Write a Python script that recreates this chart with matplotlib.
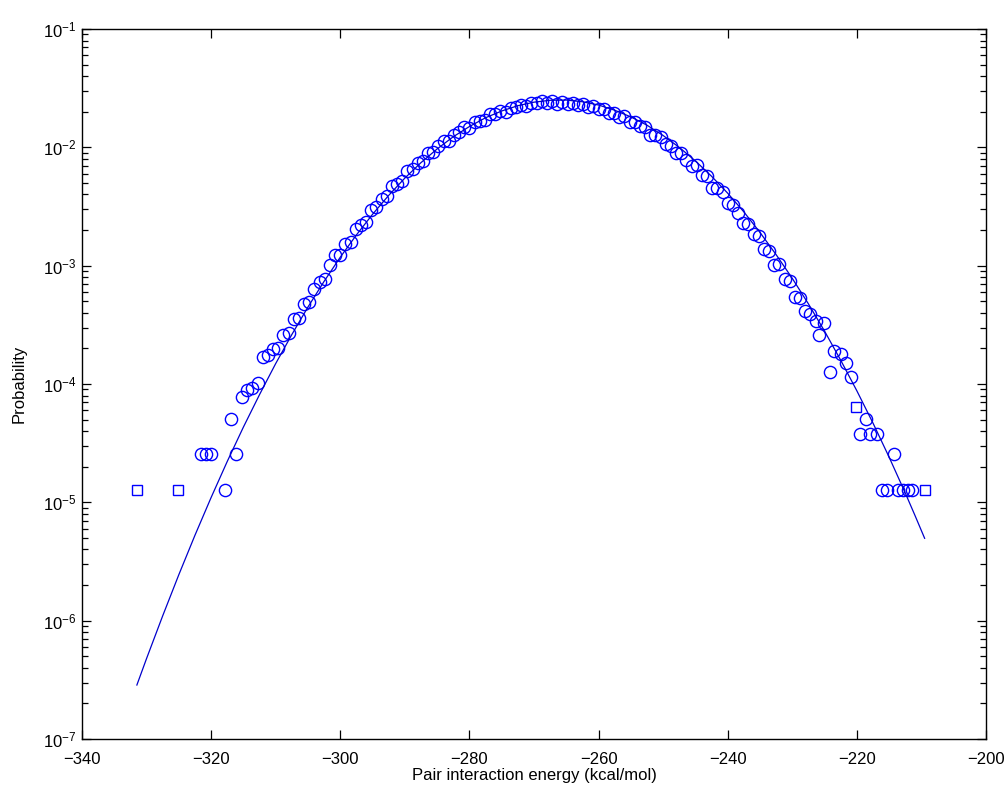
import numpy as np
import matplotlib
matplotlib.use("Agg")
import matplotlib.pyplot as plt
from matplotlib.ticker import LogLocator, MultipleLocator, NullFormatter

plt.rcParams["font.family"] = ["Liberation Sans", "DejaVu Sans"]

# Histogram points (circles)
circ_x = [
    -321.6, -320.8, -320.0, -317.8, -316.9, -316.1, -315.2, -314.5, -313.7, -312.7, -311.9,
    -311.2, -310.4, -309.6, -308.8, -308.0, -307.2, -306.4, -305.6, -304.8, -304.0,
    -303.2, -302.4, -301.6, -300.8, -300.0, -299.2, -298.4, -297.6, -296.8, -296.0,
    -295.2, -294.4, -293.6, -292.8, -292.0, -291.2, -290.4, -289.6, -288.8, -288.0,
    -287.2, -286.4, -285.6, -284.8, -284.0, -283.2, -282.4, -281.6, -280.8, -280.0,
    -279.2, -278.4, -277.6, -276.8, -276.0, -275.2, -274.4, -273.6, -272.8, -272.0,
    -271.2, -270.4, -269.6, -268.8, -268.0, -267.2, -266.4, -265.6, -264.8, -264.0,
    -263.2, -262.4, -261.6, -260.8, -260.0, -259.2, -258.4, -257.6, -256.8, -256.0,
    -255.2, -254.4, -253.6, -252.8, -252.0, -251.2, -250.4, -249.6, -248.8, -248.0,
    -247.2, -246.4, -245.6, -244.8, -244.0, -243.2, -242.4, -241.6, -240.8, -240.0,
    -239.2, -238.4, -237.6, -236.8, -236.0, -235.2, -234.4, -233.6, -232.8, -232.0,
    -231.2, -230.4, -229.6, -228.8, -228.0, -227.2, -226.4,
    -225.8, -225.1, -224.1, -223.5, -222.5, -221.7, -220.9, -219.5, -218.6, -218.0,
    -216.9, -214.2, -216.1, -215.3, -213.6, -212.8, -212.0, -211.4,
]
circ_p = [
    2.54e-5, 2.54e-5, 2.54e-5, 1.27e-5, 5.08e-5, 2.54e-5, 7.8e-5, 8.9e-5, 9.2e-5, 1.02e-4, 1.7e-4,
    1.75e-4, 1.97e-4, 2.02e-4, 2.59e-4, 2.70e-4, 3.52e-4, 3.64e-4, 4.72e-4, 4.95e-4, 6.38e-4,
    7.29e-4, 7.76e-4, 1.01e-3, 1.23e-3, 1.23e-3, 1.52e-3, 1.59e-3, 2.04e-3, 2.22e-3, 2.35e-3,
    2.98e-3, 3.13e-3, 3.69e-3, 3.85e-3, 4.71e-3, 4.89e-3, 5.18e-3, 6.27e-3, 6.59e-3, 7.40e-3,
    7.71e-3, 8.99e-3, 9.12e-3, 1.03e-2, 1.14e-2, 1.14e-2, 1.28e-2, 1.34e-2, 1.49e-2, 1.47e-2,
    1.63e-2, 1.67e-2, 1.72e-2, 1.92e-2, 1.91e-2, 2.03e-2, 2.01e-2, 2.17e-2, 2.18e-2, 2.29e-2,
    2.23e-2, 2.37e-2, 2.35e-2, 2.45e-2, 2.36e-2, 2.45e-2, 2.34e-2, 2.44e-2, 2.34e-2, 2.38e-2,
    2.26e-2, 2.33e-2, 2.18e-2, 2.23e-2, 2.12e-2, 2.10e-2, 1.94e-2, 1.96e-2, 1.79e-2, 1.84e-2,
    1.64e-2, 1.63e-2, 1.51e-2, 1.49e-2, 1.28e-2, 1.28e-2, 1.22e-2, 1.06e-2, 1.03e-2, 8.91e-3,
    8.99e-3, 7.89e-3, 6.90e-3, 7.06e-3, 5.85e-3, 5.68e-3, 4.56e-3, 4.50e-3, 4.23e-3, 3.37e-3,
    3.28e-3, 2.78e-3, 2.30e-3, 2.27e-3, 1.86e-3, 1.79e-3, 1.39e-3, 1.32e-3, 1.02e-3, 1.04e-3,
    7.76e-4, 7.46e-4, 5.43e-4, 5.31e-4, 4.11e-4, 3.90e-4, 3.44e-4,
    2.6e-4, 3.3e-4, 1.27e-4, 1.9e-4, 1.78e-4, 1.52e-4, 1.14e-4, 3.81e-5, 5.08e-5, 3.81e-5,
    3.81e-5, 2.54e-5, 1.27e-5, 1.27e-5, 1.27e-5, 1.27e-5, 1.27e-5, 1.27e-5,
]

# Separate square markers
sq_x = [-331.5, -325.1, -220.2, -209.5]
sq_p = [1.27e-5, 1.27e-5, 6.35e-5, 1.27e-5]

# Fitted curve, read at regular energies
fit_x = [-331.5, -330.0, -327.5, -325.0, -322.5, -320.0, -317.5, -315.0, -312.5,
         -310.0, -307.5, -305.0, -302.5, -300.0, -297.5, -295.0, -292.5, -290.0,
         -287.5, -285.0, -282.5, -280.0, -277.5, -275.0, -272.5, -270.0, -267.5,
         -265.0, -262.5, -260.0, -257.5, -255.0, -252.5, -250.0, -247.5, -245.0,
         -242.5, -240.0, -237.5, -235.0, -232.5, -230.0, -227.5, -225.0, -222.5,
         -220.0, -217.5, -215.0, -212.5, -211.0, -209.5]
fit_p = [2.86e-7, 4.79e-7, 1.10e-6, 2.45e-6, 5.28e-6, 1.10e-5, 2.22e-5, 4.33e-5, 8.15e-5,
         1.49e-4, 2.62e-4, 4.48e-4, 7.38e-4, 1.18e-3, 1.82e-3, 2.72e-3, 3.93e-3, 5.50e-3,
         7.43e-3, 9.70e-3, 1.23e-2, 1.50e-2, 1.78e-2, 2.03e-2, 2.25e-2, 2.41e-2, 2.50e-2,
         2.51e-2, 2.43e-2, 2.28e-2, 2.06e-2, 1.81e-2, 1.54e-2, 1.26e-2, 1.00e-2, 7.68e-3,
         5.70e-3, 4.10e-3, 2.85e-3, 1.91e-3, 1.24e-3, 7.82e-4, 4.76e-4, 2.80e-4, 1.59e-4,
         8.77e-5, 4.68e-5, 2.41e-5, 1.20e-5, 7.76e-6, 4.97e-6]

fig = plt.figure(figsize=(10.06, 7.98), dpi=100, facecolor="white")
ax = fig.add_axes([0.0815, 0.0739, 0.8986, 0.8897])

ax.plot(circ_x, circ_p, "o", ms=8.8, mfc="none", mec="#0000FF", mew=1.0)
ax.plot(sq_x, sq_p, "s", ms=7.5, mfc="none", mec="#0000FF", mew=1.0)
ax.plot(fit_x, fit_p, "-", color="#0000CC", lw=0.9)

ax.set_yscale("log")
ax.set_xlim(-340, -200)
ax.set_ylim(1e-7, 1e-1)
ax.xaxis.set_major_locator(MultipleLocator(20))
ax.yaxis.set_major_locator(LogLocator(base=10, numticks=10))
ax.yaxis.set_minor_locator(LogLocator(base=10, subs=np.arange(2, 10), numticks=10))
ax.yaxis.set_minor_formatter(NullFormatter())

ax.tick_params(which="both", direction="in", top=True, right=True,
               labelsize=12, width=0.9, colors="black")
ax.tick_params(which="major", length=6.5)
ax.tick_params(which="minor", length=4.5)
ax.tick_params(axis="x", which="major", pad=9)
ax.tick_params(axis="y", which="major", pad=4)
for s in ax.spines.values():
    s.set_linewidth(1.0)

ax.set_xlabel("Pair interaction energy (kcal/mol)", fontsize=12, labelpad=1)
ax.set_ylabel("Probability", fontsize=12, labelpad=12)

fig.savefig("out.png", dpi=100)
